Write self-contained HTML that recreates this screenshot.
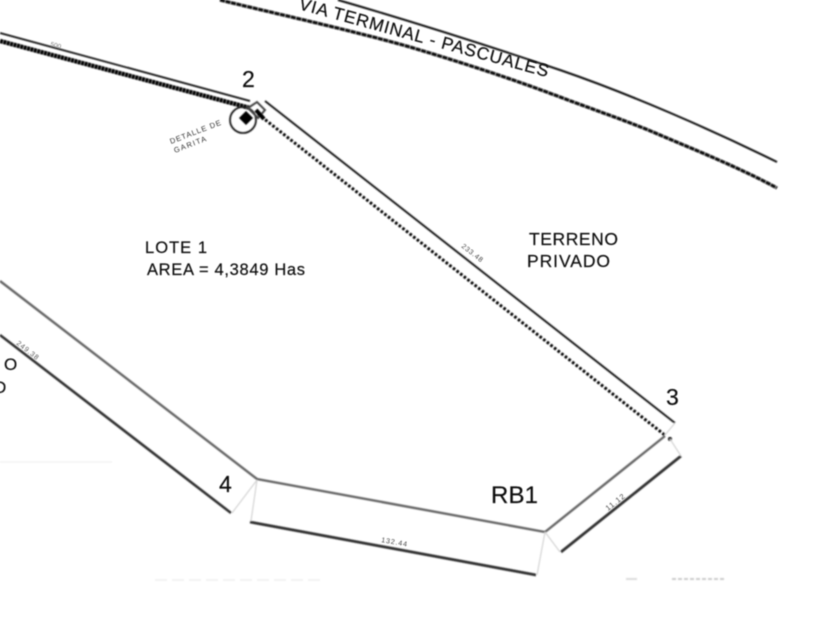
<!DOCTYPE html>
<html>
<head>
<meta charset="utf-8">
<style>
html,body{margin:0;padding:0;background:#fff;width:840px;height:630px;overflow:hidden}
svg{display:block}
text{font-family:"Liberation Sans",sans-serif;fill:#111;stroke:#111;stroke-width:.2}
</style>
</head>
<body>
<svg width="840" height="630" viewBox="0 0 840 630" xmlns="http://www.w3.org/2000/svg">
<defs>
<filter id="b" x="-5%" y="-5%" width="110%" height="110%"><feGaussianBlur stdDeviation="0.7"/></filter>
<filter id="t" x="-5%" y="-5%" width="110%" height="110%"><feGaussianBlur stdDeviation="0.6"/></filter>
</defs>
<g filter="url(#b)" fill="none" stroke-linecap="butt">
  <!-- road -->
  <path d="M338,0 C400,18 480,43 560,70 C630,94 710,129 777,162" stroke="#111" stroke-width="2"/>
  <path d="M220,0 C290,17 350,30 410,47 C470,65 515,80 560,97 C600,112 630,122 660,135 C700,152 740,168 777,188" stroke="#0c0c0c" stroke-width="3.2" stroke-dasharray="5 .6"/>
  <!-- fence -->
  <path d="M0,33 L250,101" stroke="#111" stroke-width="1.8"/>
  <path d="M0,41 L250,108" stroke="#000" stroke-width="4.4" stroke-dasharray="3 .5"/>
  <path d="M265,101 L675,423" stroke="#1a1a1a" stroke-width="2"/>
  <path d="M258,114 L666,436" stroke="#000" stroke-width="3" stroke-dasharray="2.6 2"/>
  <circle cx="670" cy="439" r="2" fill="#000" stroke="none"/>
  <!-- corner at 2 -->
  <circle cx="243" cy="120" r="13" stroke="#1a1a1a" stroke-width="1.8"/>
  <path d="M246,111 L253,118 L246,125 L239,118 Z" fill="#000" stroke="none"/>
  <path d="M248,108 L257,102 L265,110 L258,118 Z" stroke="#444" stroke-width="2"/>
  <path d="M256,110 L264,119" stroke="#000" stroke-width="4"/>
  <!-- boundaries -->
  <path d="M0,281 L257,479 L545,532 L665,436" stroke="#666" stroke-width="2.4"/>
  <path d="M0,335 L231,513" stroke="#333" stroke-width="2.6"/>
  <path d="M250,522 L536,575" stroke="#333" stroke-width="2.8"/>
  <path d="M561,552 L681,456" stroke="#333" stroke-width="2.8"/>
  <!-- leaders -->
  <path d="M257,480 L251,521 M257,480 L232,513 M545,532 L537,575 M545,532 L560,552 M670,439 L681,456 M675,423 L665,435" stroke="#d4d4d4" stroke-width="1.2"/>
  <path d="M0,462 L112,462" stroke="#efefef" stroke-width="1.2"/>
  <path d="M155,580 L325,580" stroke="#f3f3f3" stroke-width="2" stroke-dasharray="12 5"/>
  <path d="M626,579 L637,579" stroke="#ddd" stroke-width="2"/>
  <path d="M672,579 L725,579" stroke="#ccc" stroke-width="2" stroke-dasharray="4 2"/>
</g>
<g filter="url(#t)">
  <text transform="translate(298,9) rotate(15.3)" font-size="17.5" textLength="258" lengthAdjust="spacing">VIA  TERMINAL - PASCUALES</text>
  <text x="242" y="87" font-size="23">2</text>
  <text x="666" y="405" font-size="23">3</text>
  <text x="219" y="492" font-size="23">4</text>
  <text x="491" y="503" font-size="24" textLength="47">RB1</text>
  <text x="145" y="253" font-size="16.5" textLength="62">LOTE 1</text>
  <text x="147" y="275" font-size="16.5" textLength="158">AREA = 4,3849  Has</text>
  <text x="529" y="245" font-size="17.5" textLength="89">TERRENO</text>
  <text x="527" y="267" font-size="17.5" textLength="83">PRIVADO</text>
  <text x="4" y="370" font-size="17">O</text>
  <text x="-6" y="393" font-size="17">D</text>
  <g style="stroke:none">
    <text transform="translate(50,46) rotate(15)" font-size="6.5" style="fill:#777;stroke:none">500</text>
    <text transform="translate(171,144) rotate(-21)" font-size="7.5" textLength="54" style="fill:#333;stroke:none">DETALLE DE</text>
    <text transform="translate(175,153) rotate(-21)" font-size="7.5" textLength="34" style="fill:#333;stroke:none">GARITA</text>
    <text transform="translate(461,247) rotate(38)" font-size="7" textLength="25" style="fill:#444;stroke:none">233.48</text>
    <text transform="translate(16,344) rotate(38)" font-size="7" textLength="26" style="fill:#555;stroke:none">249.38</text>
    <text transform="translate(608,511) rotate(-38)" font-size="7.5" textLength="22" style="fill:#444;stroke:none">11.12</text>
    <text transform="translate(381,542) rotate(10)" font-size="7" textLength="26" style="fill:#444;stroke:none">132.44</text>
  </g>
</g>
</svg>
</body>
</html>
